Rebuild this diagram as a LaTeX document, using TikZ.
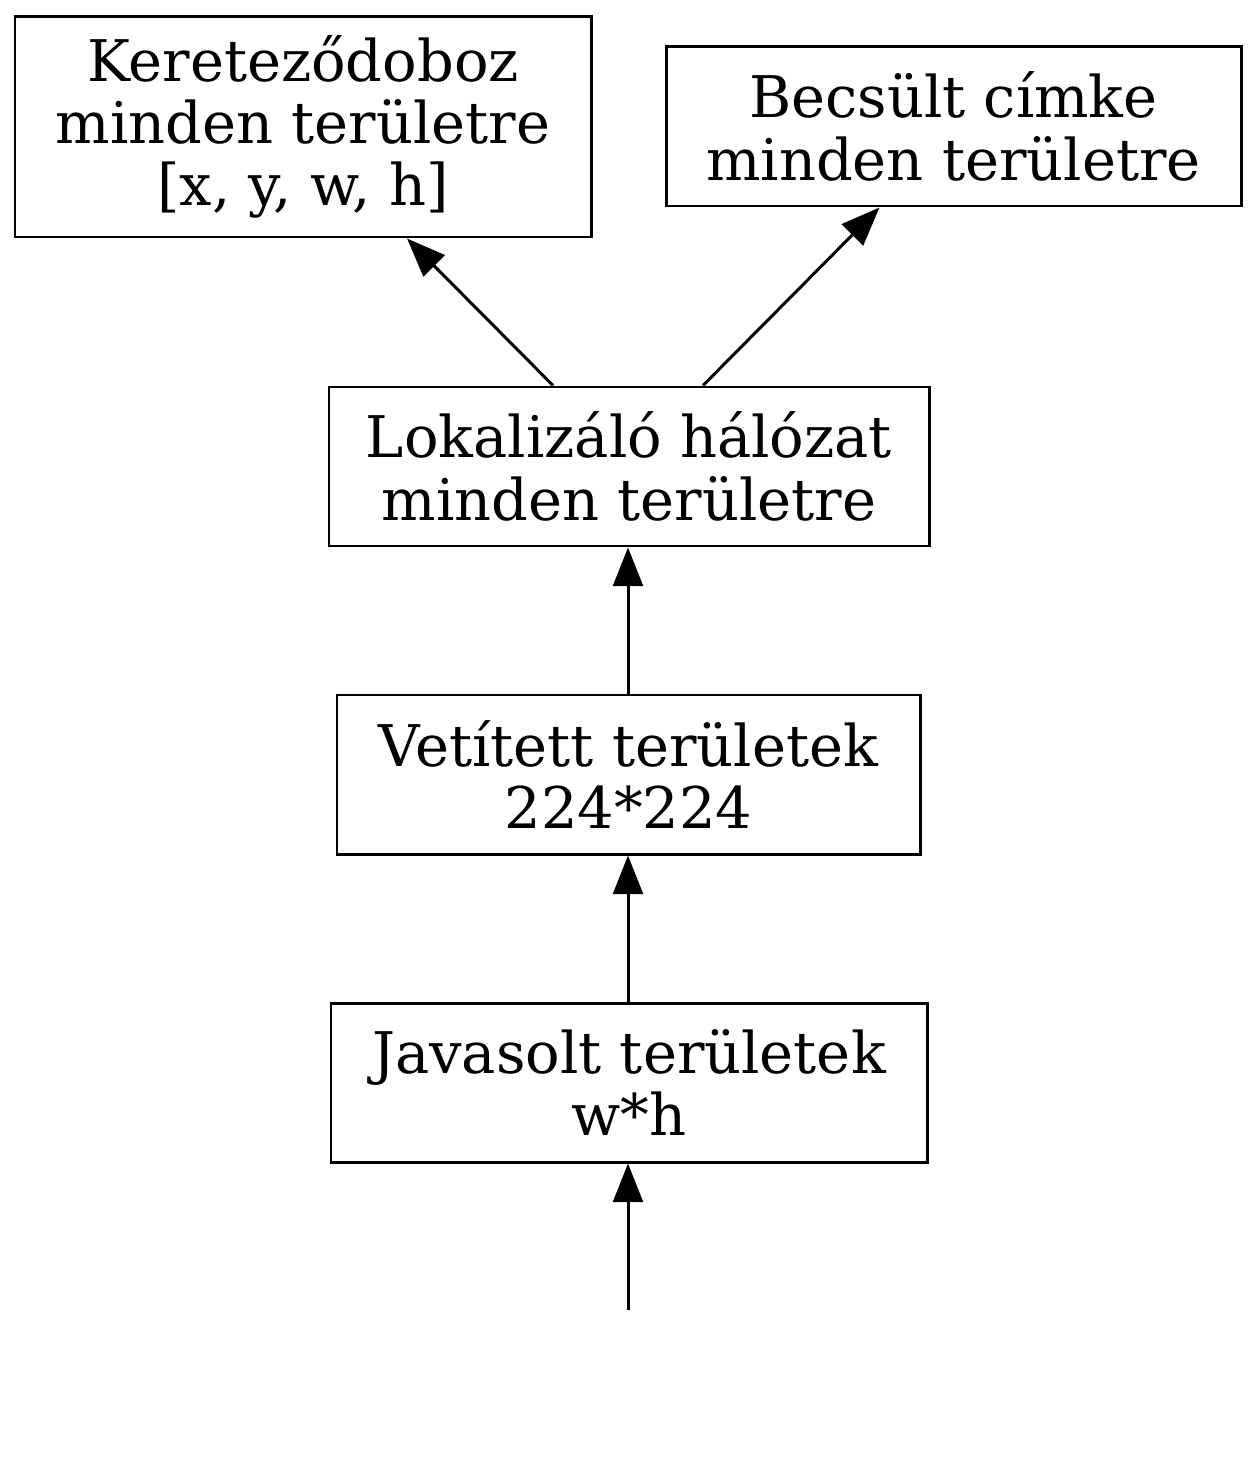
\documentclass[tikz,border=0pt]{standalone}
\usepackage{fontspec}
\setmainfont{DejaVu Serif}
\usetikzlibrary{arrows.meta}
\usetikzlibrary{positioning}

\tikzset{
 dobozstil/.style={draw,line width=1.7pt,align=center,inner sep=0pt,
   font=\fontsize{32.7}{35.5}\selectfont},
 nyilstil/.style={line width=1.7pt,-{Triangle[length=22pt,width=17pt]}}
}

\begin{document}
\begin{tikzpicture}[x=0.02cm,y=-0.02cm]
 \useasboundingbox (0,0) rectangle (1258,1479);
 \node[dobozstil,minimum width=576*0.02cm,minimum height=220*0.02cm] (keret) at (303,127) {Kereteződoboz\\minden területre\\{[x, y, w, h]}};
 \node[dobozstil,minimum width=575*0.02cm,minimum height=159*0.02cm] (cimke) at (953.5,126.5) {Becsült címke\\minden területre};
 \node[dobozstil,minimum width=600*0.02cm,minimum height=159*0.02cm] (lokal) at (629,466.5) {Lokalizáló hálózat\\minden területre};
 \node[dobozstil,minimum width=583*0.02cm,minimum height=159*0.02cm] (vetit) at (628.5,774.5) {Vetített területek\\224*224};
 \node[dobozstil,minimum width=596*0.02cm,minimum height=159*0.02cm] (javas) at (629,1082.5) {Javasolt területek\\w*h};
 \coordinate (bemenet) at (628,1310);
 % nyilak
 \draw[nyilstil] (bemenet) -- (javas.south -| bemenet);
 \draw[nyilstil] (javas.north -| bemenet) -- (vetit.south -| bemenet);
 \draw[nyilstil] (vetit.north -| bemenet) -- (lokal.south -| bemenet);
 \draw[nyilstil] ([xshift=-76*0.02cm]lokal.north) -- ([xshift=104*0.02cm]keret.south);
 \draw[nyilstil] ([xshift=74*0.02cm]lokal.north) -- ([xshift=-74*0.02cm]cimke.south);
\end{tikzpicture}
\end{document}
